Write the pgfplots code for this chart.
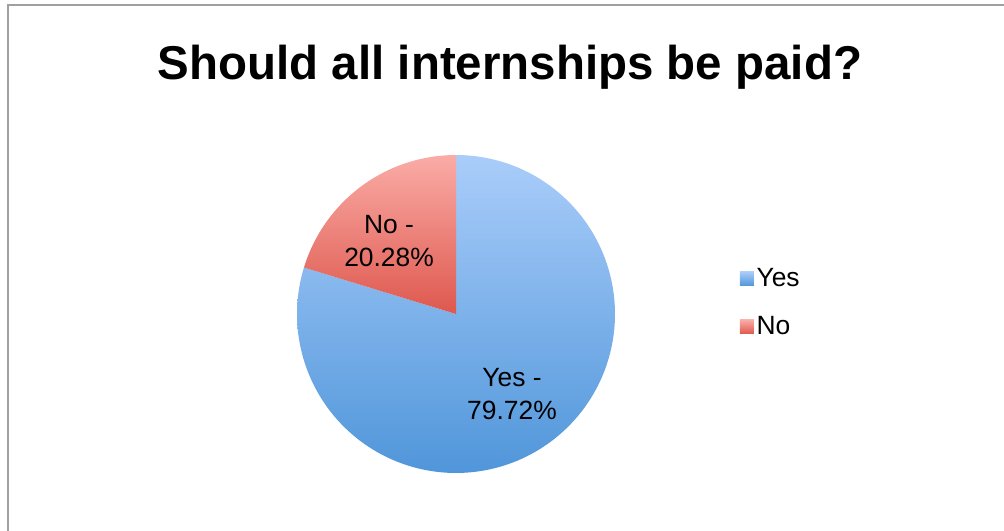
\documentclass[border=0pt]{standalone}
\usepackage{pgfplots}
\pgfplotsset{compat=1.18}
\usepackage{pgfplotstable}
\usepackage{fontspec}
\setmainfont{Liberation Sans}
\definecolor{yestop}{RGB}{170,205,250}
\definecolor{yesbot}{RGB}{80,150,218}
\definecolor{notop}{RGB}{250,172,166}
\definecolor{nobot}{RGB}{222,88,78}
\definecolor{frame}{RGB}{160,160,160}
\pgfplotstableread{
label value
Yes 79.72
No 20.28
}\piedata
\pgfplotstablegetelem{0}{value}\of\piedata \let\yesval\pgfplotsretval
\pgfplotstablegetelem{1}{value}\of\piedata \let\noval\pgfplotsretval
\pgfmathsetmacro\noend{90+3.6*\noval}
\pgfmathsetmacro\yesend{\noend+3.6*\yesval}
\begin{document}
\begin{tikzpicture}[x=0.75pt,y=0.75pt]
\path[use as bounding box] (0,0) rectangle (1004,531);
\draw[frame, line width=1.5pt] (7.5,0) -- (7.5,525.5) -- (1004,525.5);
\node[anchor=base, font=\fontsize{35.6}{40}\selectfont\bfseries] at (510,451) {Should all internships be paid?};
\begin{axis}[
  at={(342pt,162.75pt)}, anchor=center,
  width=238.5pt, height=238.5pt, scale only axis,
  xmin=-1, xmax=1, ymin=-1, ymax=1,
  hide axis, clip=false,
  legend style={at={(1.392,0.652)}, anchor=north west, draw=none, fill=none,
    font=\fontsize{19.8}{22}\selectfont, row sep=17pt,
    legend cell align=left, inner sep=0pt},
]
\addplot[draw=none, top color=yestop, bottom color=yesbot, domain=\noend:\yesend, samples=180, variable=\t,
  legend image code/.code={\shade[top color=yestop, bottom color=yesbot] (0pt,-5.25pt) rectangle (10.5pt,5.25pt);}]
  ({cos(\t)},{sin(\t)}) -- (axis cs:0,0) -- cycle;
\addlegendentry{Yes}
\addplot[draw=none, top color=notop, bottom color=nobot, domain=90:\noend, samples=60, variable=\t,
  legend image code/.code={\shade[top color=notop, bottom color=nobot] (0pt,-5.25pt) rectangle (10.5pt,5.25pt);}]
  ({cos(\t)},{sin(\t)}) -- (axis cs:0,0) -- cycle;
\addlegendentry{No}
\node[align=center, font=\fontsize{19.8}{24.75}\selectfont] at (axis cs:-0.421,0.459) {No -\\20.28\%};
\node[align=center, font=\fontsize{19.8}{24.75}\selectfont] at (axis cs:0.352,-0.503) {Yes -\\79.72\%};
\end{axis}
\end{tikzpicture}
\end{document}
